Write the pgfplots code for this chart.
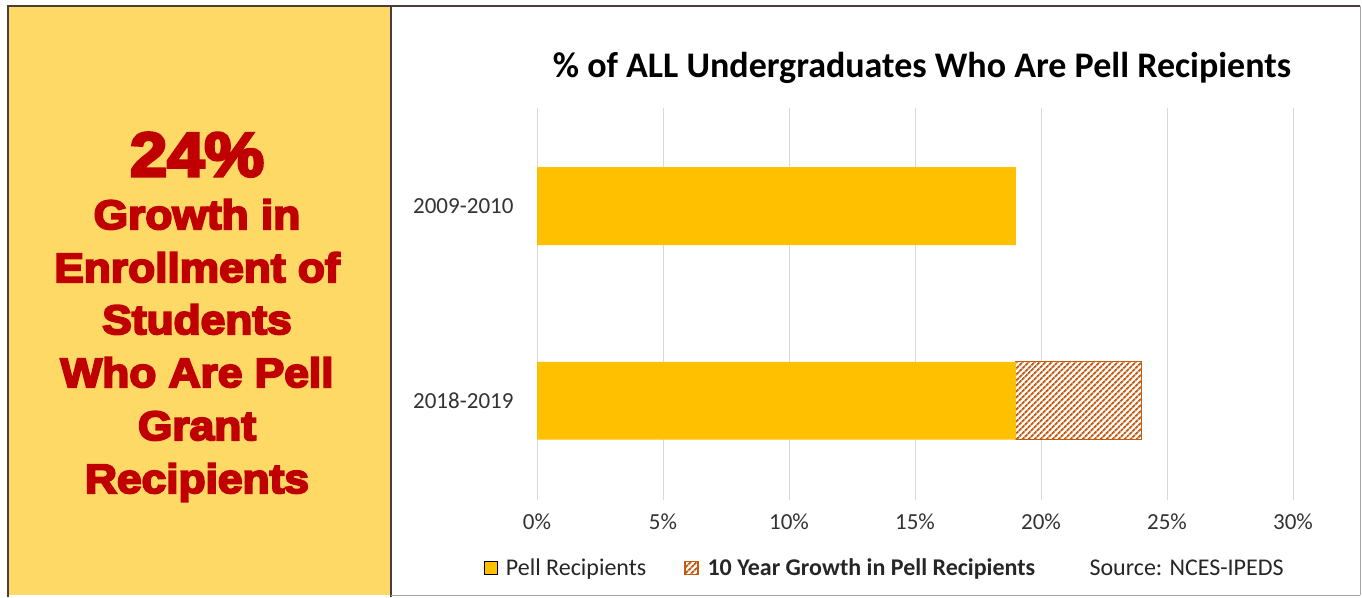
\documentclass[border=0pt]{standalone}
\usepackage{fontspec}
\setmainfont{Carlito}
\newfontfamily\blackfont{Liberation Sans}[BoldFeatures={FakeBold=5,FakeStretch=1.08}]
\usepackage{pgfplots}
\pgfplotsset{compat=1.18}
\usetikzlibrary{patterns.meta}
\definecolor{pellgold}{HTML}{FFC000}
\definecolor{panelgold}{HTML}{FFD966}
\definecolor{hatch}{HTML}{C55A11}
\definecolor{headred}{HTML}{C00000}
\definecolor{frame}{HTML}{4A3C3C}
\begin{document}
\begin{tikzpicture}
\useasboundingbox (0pt,0pt) rectangle (1362pt,597pt);
\fill[white] (0pt,0pt) rectangle (1362pt,597pt);
% left panel
\fill[panelgold] (8pt,2pt) rectangle (391pt,591pt);
\draw[frame,line width=2pt] (8pt,0pt) -- (8pt,591pt) -- (1360pt,591pt);
\draw[frame,line width=2pt] (391pt,0pt) -- (391pt,591pt);
\draw[gray!70,line width=1pt] (1360pt,591pt) -- (1360pt,2pt);
\draw[gray!70,line width=1pt] (391pt,2pt) -- (1360pt,2pt);
\node[anchor=base,text=headred,font={\blackfont\bfseries\fontsize{62}{66}\selectfont}] at (197pt,421pt) {24\%};
\foreach \t/\b in {Growth in/368, Enrollment of/315, Students/263, Who Are Pell/210, Grant/157, Recipients/104}
  \node[anchor=base,text=headred,font={\blackfont\bfseries\fontsize{41}{50}\selectfont}] at (197pt,\b pt) {\t};
% title
\node[font={\bfseries\fontsize{36}{40}\selectfont}] at (922pt,529pt) {\% of ALL Undergraduates Who Are Pell Recipients};
\begin{axis}[
  at={(537pt,97pt)}, anchor=south west,
  scale only axis, width=756pt, height=392pt,
  xbar stacked, bar width=0.4,
  xmin=0, xmax=30, ymin=-0.51, ymax=1.504,
  xtick={0,5,...,30},
  xticklabel={\pgfmathprintnumber{\tick}\%},
  ytick={0,1}, yticklabels={2018-2019,2009-2010},
  xmajorgrids, grid style={draw=gray!30, line width=1pt},
  axis line style={draw=none},
  major tick length=0pt,
  tick label style={font=\fontsize{23}{26}\selectfont, text=black!80},
  /pgf/number format/assume math mode=true,
  xticklabel style={yshift=-10pt},
  yticklabel style={xshift=-20pt},
  legend style={at={(-0.071,-0.173)}, anchor=west, draw=none, fill=none,
    font=\fontsize{24}{26}\selectfont, text=black!85, inner sep=0pt},
  legend columns=2,
  /tikz/every odd column/.append style={column sep=7pt},
  /tikz/every even column/.append style={column sep=36pt},
  legend image code/.code={\draw[#1] (0pt,-6.5pt) rectangle (13pt,6.5pt);},
]
\addplot[fill=pellgold, draw=none] coordinates {(19,0) (19,1)};
\addplot[draw=hatch, line width=1.2pt, fill=white,
  postaction={pattern={Lines[angle=45,distance=4pt,line width=2pt]}, pattern color=hatch}]
  coordinates {(5,0)};
\legend{Pell Recipients, \textbf{10 Year Growth in Pell Recipients}}
\end{axis}
\node[anchor=west, font=\fontsize{24}{26}\selectfont, text=black!85] at (1086pt,29pt) {Source: NCES-IPEDS};
\end{tikzpicture}
\end{document}
